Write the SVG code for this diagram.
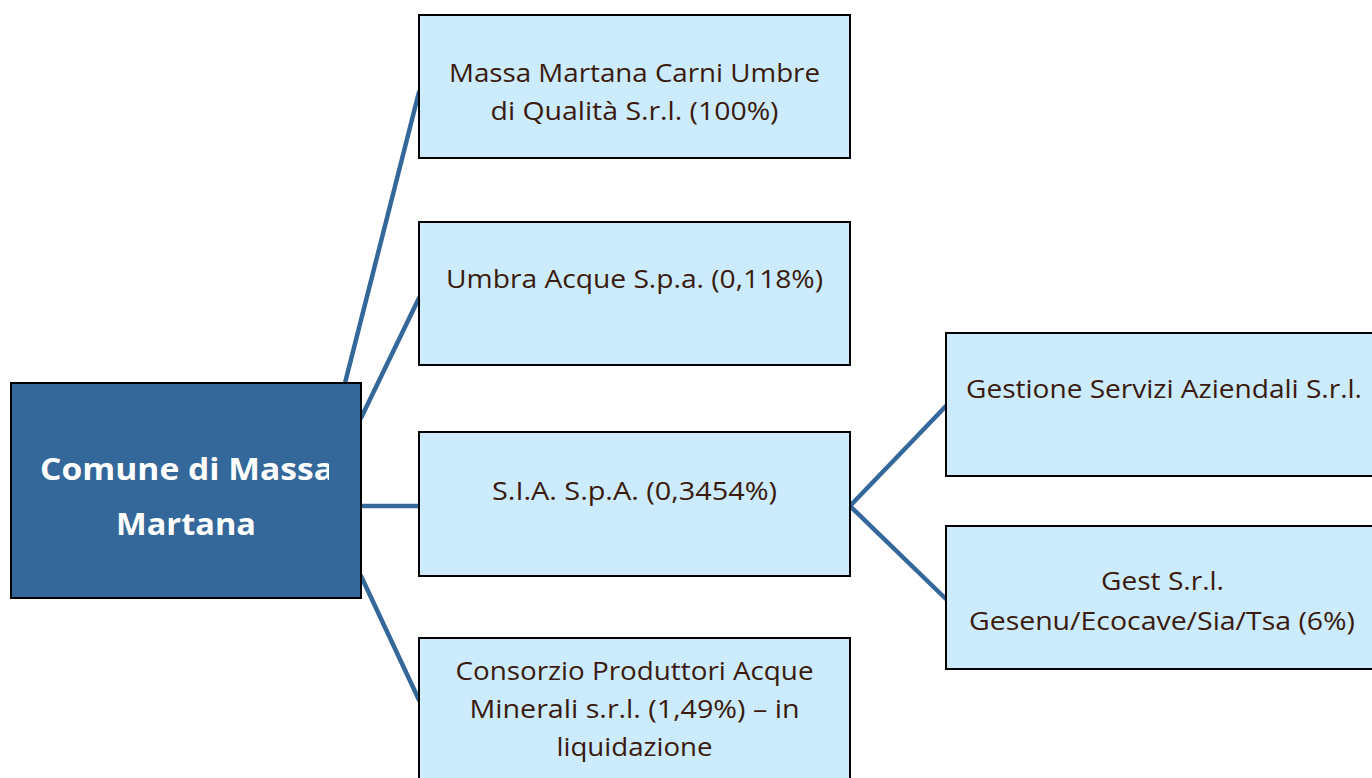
<svg xmlns="http://www.w3.org/2000/svg" width="1372" height="778" viewBox="0 0 1372 778">
<defs>
<style>
.box{fill:#CCEBFD;stroke:#000;stroke-width:2}
.main{fill:#34679A;stroke:#000;stroke-width:2}
.t{font-family:"Open Sans","Liberation Sans",sans-serif;font-size:25px;fill:#3A1A0C;text-anchor:middle}
.mt{font-family:"Open Sans","Liberation Sans",sans-serif;font-size:31px;font-weight:bold;fill:#fff;text-anchor:middle}
.c{stroke:#34679A;stroke-width:4.5;fill:none;stroke-linecap:round}
</style>
<clipPath id="mclip"><rect x="11" y="383" width="318" height="215"/></clipPath>
</defs>
<rect width="1372" height="778" fill="#fff"/>
<g id="connectors">
<line class="c" x1="345" y1="383" x2="419" y2="92"/>
<line class="c" x1="361" y1="418" x2="419" y2="298"/>
<line class="c" x1="361" y1="506" x2="419" y2="506"/>
<line class="c" x1="361" y1="576" x2="419" y2="700"/>
<line class="c" x1="850" y1="506" x2="946" y2="406"/>
<line class="c" x1="850" y1="506" x2="946" y2="599"/>
</g>
<g id="comune">
<rect class="main" x="11" y="383" width="350" height="215"/>
<g clip-path="url(#mclip)">
<text class="mt" x="187" y="480" textLength="294" lengthAdjust="spacingAndGlyphs">Comune di Massa</text>
</g>
<text class="mt" x="186" y="535" textLength="140" lengthAdjust="spacingAndGlyphs">Martana</text>
</g>
<g id="carni">
<rect class="box" x="419" y="15" width="431" height="143"/>
<text class="t" x="634.5" y="82" textLength="371" lengthAdjust="spacingAndGlyphs">Massa Martana Carni Umbre</text>
<text class="t" x="634.5" y="120" textLength="288" lengthAdjust="spacingAndGlyphs">di Qualità S.r.l. (100%)</text>
</g>
<g id="umbra">
<rect class="box" x="419" y="222" width="431" height="143"/>
<text class="t" x="634.5" y="288" textLength="377" lengthAdjust="spacingAndGlyphs">Umbra Acque S.p.a. (0,118%)</text>
</g>
<g id="sia">
<rect class="box" x="419" y="432" width="431" height="144"/>
<text class="t" x="634.5" y="500" textLength="285" lengthAdjust="spacingAndGlyphs">S.I.A. S.p.A. (0,3454%)</text>
</g>
<g id="consorzio">
<rect class="box" x="419" y="638" width="431" height="150"/>
<text class="t" x="634.5" y="680" textLength="358" lengthAdjust="spacingAndGlyphs">Consorzio Produttori Acque</text>
<text class="t" x="634.5" y="718" textLength="330" lengthAdjust="spacingAndGlyphs">Minerali s.r.l. (1,49%) – in</text>
<text class="t" x="634.5" y="756" textLength="156" lengthAdjust="spacingAndGlyphs">liquidazione</text>
</g>
<g id="gsa">
<rect class="box" x="946" y="333" width="436" height="143"/>
<text class="t" x="1164" y="398" textLength="396" lengthAdjust="spacingAndGlyphs">Gestione Servizi Aziendali S.r.l.</text>
</g>
<g id="gest">
<rect class="box" x="946" y="526" width="436" height="143"/>
<text class="t" x="1162.5" y="590" textLength="123" lengthAdjust="spacingAndGlyphs">Gest S.r.l.</text>
<text class="t" x="1162" y="630" textLength="386" lengthAdjust="spacingAndGlyphs">Gesenu/Ecocave/Sia/Tsa (6%)</text>
</g>
</svg>
